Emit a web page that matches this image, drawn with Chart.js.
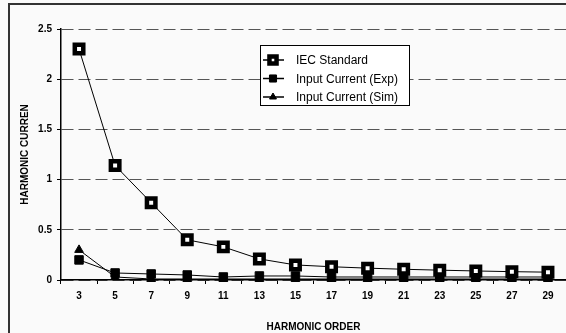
<!DOCTYPE html>
<html>
<head>
<meta charset="utf-8">
<script src="https://cdn.jsdelivr.net/npm/chart.js@4.4.0/dist/chart.umd.min.js"></script>
<style>
    html, body { margin: 0; padding: 0; background: #fafafa; }
    #wrap { position: relative; width: 566px; height: 333px; }
</style>
</head>
<body>
<div id="wrap"><canvas id="harmonicChart" width="566" height="333"></canvas></div>
<script>
// Harmonic orders and current values (A)
const harmonicOrders = ['3', '5', '7', '9', '11', '13', '15', '17', '19', '21', '23', '25', '27', '29'];
const iecStandard = [2.3, 1.14, 0.77, 0.4, 0.33, 0.21, 0.15, 0.132, 0.118, 0.107, 0.098, 0.09, 0.083, 0.078];
const inputExp = [0.2, 0.07, 0.06, 0.05, 0.03, 0.04, 0.04, 0.03, 0.03, 0.03, 0.03, 0.03, 0.03, 0.03];
const inputSim = [0.3, 0.03, 0.01, 0.01, 0.01, 0.01, 0.01, 0.01, 0.01, 0.01, 0.01, 0.01, 0.01, 0.01];
const yTicks = [0, 0.5, 1, 1.5, 2, 2.5];

// outer frame (top + left edge of the scanned box)
const framePlugin = {
    id: 'frame',
    beforeDraw(chart) {
        const ctx = chart.ctx;
        ctx.save();
        ctx.strokeStyle = '#333';
        ctx.lineWidth = 2;
        ctx.beginPath();
        ctx.moveTo(9, 333);
        ctx.lineTo(9, 4);
        ctx.lineTo(566, 4);
        ctx.stroke();
        ctx.restore();
    }
};

// legend box drawn inside the plot area
const boxLegend = {
    id: 'boxLegend',
    afterDraw(chart) {
        const ctx = chart.ctx;
        const x = 260, y = 45, w = 149, h = 60;
        ctx.save();
        ctx.fillStyle = '#fff';
        ctx.fillRect(x, y, w, h);
        ctx.strokeStyle = '#000';
        ctx.lineWidth = 1;
        ctx.strokeRect(x + 0.5, y + 0.5, w, h);
        ctx.font = '12px Arial, "Liberation Sans", sans-serif';
        ctx.textBaseline = 'middle';
        chart.data.datasets.forEach((ds, i) => {
            const cy = y + 15 + i * 18.5;
            ctx.strokeStyle = '#000';
            ctx.lineWidth = 1.5;
            ctx.beginPath();
            ctx.moveTo(x + 3, cy);
            ctx.lineTo(x + 24, cy);
            ctx.stroke();
            ctx.fillStyle = ds.pointBackgroundColor;
            ctx.strokeStyle = ds.pointBorderColor;
            ctx.lineWidth = ds.pointBorderWidth;
            Chart.helpers.drawPoint(ctx, {
                pointStyle: ds.pointStyle,
                rotation: 0,
                radius: ds.pointRadius - 1,
                borderWidth: ds.pointBorderWidth
            }, x + 13, cy);
            ctx.fillStyle = '#000';
            ctx.fillText(ds.label, x + 36, cy + 1);
        });
        ctx.restore();
    }
};

const ctx = document.getElementById('harmonicChart').getContext('2d');

new Chart(ctx, {
    type: 'line',
    data: {
        labels: harmonicOrders,
        datasets: [
            {
                label: 'IEC Standard',
                data: iecStandard,
                borderColor: '#000',
                borderWidth: 1,
                pointStyle: 'rect',
                pointRadius: 6,
                pointBorderWidth: 4.5,
                pointBackgroundColor: '#fff',
                pointBorderColor: '#000',
                tension: 0
            },
            {
                label: 'Input Current (Exp)',
                data: inputExp,
                borderColor: '#000',
                borderWidth: 1,
                pointStyle: 'rect',
                pointRadius: 6,
                pointBorderWidth: 1,
                pointBackgroundColor: '#000',
                pointBorderColor: '#000',
                tension: 0
            },
            {
                label: 'Input Current (Sim)',
                data: inputSim,
                borderColor: '#000',
                borderWidth: 1,
                pointStyle: 'triangle',
                pointRadius: 5,
                pointBorderWidth: 1,
                pointBackgroundColor: '#000',
                pointBorderColor: '#000',
                tension: 0
            }
        ]
    },
    options: {
        responsive: false,
        animation: false,
        clip: false,
        layout: {
            autoPadding: false,
            padding: { top: 29, left: 10, right: 0, bottom: 0 }
        },
        plugins: {
            legend: { display: false },
            tooltip: { enabled: false }
        },
        scales: {
            x: {
                offset: true,
                title: {
                    display: true,
                    text: 'HARMONIC ORDER',
                    color: '#000',
                    font: { size: 10, weight: 'bold', family: 'Arial' },
                    padding: { top: 8, bottom: 0 }
                },
                ticks: {
                    color: '#000',
                    font: { size: 10, weight: 'bold', family: 'Arial' },
                    padding: 6,
                    maxRotation: 0,
                    autoSkip: false
                },
                grid: {
                    offset: true,
                    drawOnChartArea: false,
                    tickLength: 4,
                    tickColor: '#000'
                },
                border: { color: '#000', width: 1.5 },
                afterFit(scale) { scale.height = 53; }
            },
            y: {
                min: 0,
                max: 2.5,
                afterBuildTicks(scale) {
                    scale.ticks = yTicks.map(v => ({ value: v }));
                },
                title: {
                    display: true,
                    text: 'HARMONIC CURREN',
                    color: '#000',
                    font: { size: 10, weight: 'bold', family: 'Arial' },
                    padding: { top: 9, bottom: 0 }
                },
                ticks: {
                    color: '#000',
                    font: { size: 10, weight: 'bold', family: 'Arial' },
                    padding: 5,
                    callback: v => String(v)
                },
                grid: {
                    color: '#555',
                    tickLength: 4,
                    tickColor: '#000'
                },
                border: { color: '#000', width: 1.5, dash: [12, 5] },
                afterFit(scale) { scale.width = 51; }
            }
        }
    },
    plugins: [framePlugin, boxLegend]
});
</script>
</body>
</html>
